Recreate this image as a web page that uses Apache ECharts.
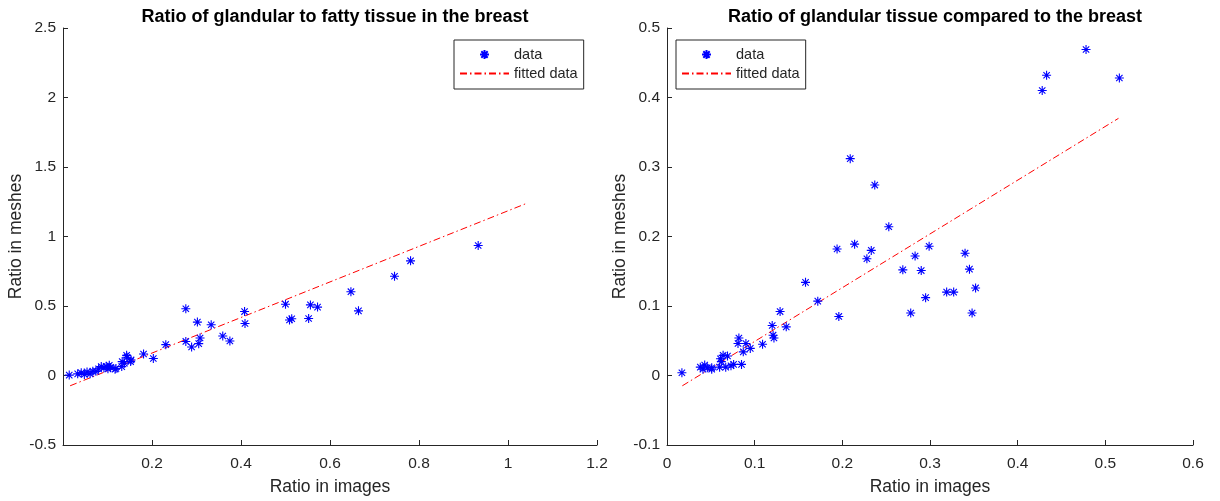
<!DOCTYPE html>
<html><head><meta charset="utf-8">
<script src="https://cdn.jsdelivr.net/npm/echarts@6/dist/echarts.min.js"></script>
<style>html,body{margin:0;padding:0;background:#fff}#c{width:1220px;height:501px}</style>
</head><body><div id="c"></div>
<script>
// ---- data ----
const titles = ['Ratio of glandular to fatty tissue in the breast', 'Ratio of glandular tissue compared to the breast'];
const xName = 'Ratio in images';
const yName = 'Ratio in meshes';
const legendNames = ['data', 'fitted data'];

const leftData = [
  [0.014,0.003],[0.033,0.012],[0.041,0.019],[0.048,0.008],[0.054,0.026],[0.061,0.012],
  [0.067,0.031],[0.074,0.030],[0.080,0.048],[0.086,0.064],[0.092,0.055],[0.097,0.066],
  [0.101,0.048],[0.104,0.074],[0.107,0.058],[0.117,0.045],[0.119,0.050],[0.132,0.064],
  [0.133,0.100],[0.138,0.088],[0.143,0.145],[0.144,0.131],[0.152,0.100],[0.153,0.112],
  [0.181,0.155],[0.203,0.122],[0.231,0.222],[0.276,0.480],[0.276,0.245],[0.289,0.205],
  [0.302,0.384],[0.305,0.229],[0.308,0.270],[0.333,0.365],[0.359,0.284],[0.375,0.248],
  [0.408,0.460],[0.409,0.374],[0.500,0.513],[0.509,0.399],[0.514,0.408],[0.552,0.410],
  [0.556,0.508],[0.572,0.492],[0.647,0.603],[0.664,0.465],[0.745,0.714],[0.781,0.825],
  [0.933,0.935]
];
const leftFit = [[0.016,-0.074],[1.04,1.236]];

const rightData = [
  [0.017,0.004],[0.038,0.012],[0.041,0.009],[0.043,0.015],[0.046,0.011],[0.051,0.009],
  [0.051,0.011],[0.060,0.012],[0.061,0.024],[0.062,0.020],[0.064,0.029],[0.067,0.012],
  [0.069,0.028],[0.073,0.014],[0.076,0.016],[0.081,0.046],[0.082,0.054],[0.085,0.016],
  [0.087,0.034],[0.090,0.046],[0.095,0.039],[0.109,0.045],[0.120,0.072],[0.121,0.058],
  [0.122,0.054],[0.129,0.092],[0.136,0.070],[0.158,0.134],[0.172,0.107],[0.194,0.182],
  [0.196,0.085],[0.209,0.312],[0.214,0.189],[0.228,0.168],[0.233,0.180],[0.237,0.274],
  [0.253,0.214],[0.269,0.152],[0.278,0.090],[0.283,0.172],[0.290,0.151],[0.295,0.112],
  [0.299,0.186],[0.319,0.120],[0.327,0.120],[0.340,0.176],[0.345,0.153],[0.348,0.090],
  [0.352,0.126],[0.428,0.410],[0.433,0.432],[0.478,0.469],[0.516,0.428]
];
const rightFit = [[0.0175,-0.0148],[0.515,0.370]];

const leftX = {min:0, max:1.2, interval:0.2};
const leftY = {min:-0.5, max:2.5, interval:0.5};
const rightX = {min:0, max:0.6, interval:0.1};
const rightY = {min:-0.1, max:0.5, interval:0.1};

// ---- chart ----
const FONT = '"Liberation Sans", Arial, Helvetica, sans-serif';
const AX = '#262626';
const star = 'path://M5,0L5,10M0,5L10,5M1.46,1.46L8.54,8.54M1.46,8.54L8.54,1.46';

function xAxis(idx, r, hideZero) {
  return {
    type:'value', gridIndex:idx, min:r.min, max:r.max, interval:r.interval,
    name:xName, nameLocation:'middle', nameGap:33,
    nameTextStyle:{fontFamily:FONT, fontSize:17.5, color:AX},
    axisLine:{onZero:false, lineStyle:{color:AX, width:1}},
    axisTick:{inside:true, length:5, lineStyle:{color:AX}},
    axisLabel:{fontFamily:FONT, fontSize:15.5, color:AX, margin:11,
      formatter: v => (hideZero && v === 0) ? '' : String(+v.toFixed(2))},
    splitLine:{show:false}
  };
}
function yAxis(idx, r) {
  return {
    type:'value', gridIndex:idx, min:r.min, max:r.max, interval:r.interval,
    name:yName, nameLocation:'middle', nameGap:37,
    nameTextStyle:{fontFamily:FONT, fontSize:17.5, color:AX},
    axisLine:{onZero:false, show:true, lineStyle:{color:AX, width:1}},
    axisTick:{show:true, inside:true, length:5, lineStyle:{color:AX}},
    axisLabel:{fontFamily:FONT, fontSize:15.5, color:AX, margin:7,
      formatter: v => String(+v.toFixed(2))},
    splitLine:{show:false}
  };
}
function scatter(idx, d) {
  return {
    name:legendNames[0], type:'scatter', xAxisIndex:idx, yAxisIndex:idx, data:d,
    symbol:star, symbolSize:9,
    itemStyle:{color:'#0000ff', borderColor:'#0000ff', borderWidth:1.1, opacity:1},
    emphasis:{disabled:true}, z:3
  };
}
function fit(idx, d) {
  return {
    name:legendNames[1], type:'line', xAxisIndex:idx, yAxisIndex:idx, data:d,
    symbol:'none', showSymbol:false,
    lineStyle:{color:'#ff0000', width:1, type:[7,3,1.5,3]},
    itemStyle:{color:'#ff0000'},
    emphasis:{disabled:true}, z:2
  };
}
function legend(left) {
  return {
    orient:'vertical', left:left, top:40, itemWidth:49, itemHeight:9, itemGap:4,
    padding:[7,6,8,5], borderColor:AX, borderWidth:1, backgroundColor:'#fff',
    textStyle:{fontFamily:FONT, fontSize:14.5, color:AX},
    data:[{name:legendNames[0]}, {name:legendNames[1], itemStyle:{opacity:0}}],
    selectedMode:false
  };
}

const chart = echarts.init(document.getElementById('c'), null, {renderer:'canvas'});
chart.setOption({
  animation:false,
  backgroundColor:'#fff',
  title:[
    {text:titles[0], left:330, top:3, textAlign:'center',
     textStyle:{fontFamily:FONT, fontSize:18, fontWeight:'bold', color:'#000'}},
    {text:titles[1], left:930, top:3, textAlign:'center',
     textStyle:{fontFamily:FONT, fontSize:18, fontWeight:'bold', color:'#000'}}
  ],
  legend:[legend(454), legend(676)],
  grid:[
    {left:63, top:28, width:534, height:419},
    {left:667, top:28, width:526, height:419}
  ],
  xAxis:[xAxis(0, leftX, true), xAxis(1, rightX, false)],
  yAxis:[yAxis(0, leftY), yAxis(1, rightY)],
  series:[scatter(0, leftData), fit(0, leftFit), scatter(1, rightData), fit(1, rightFit)]
});
</script></body></html>
